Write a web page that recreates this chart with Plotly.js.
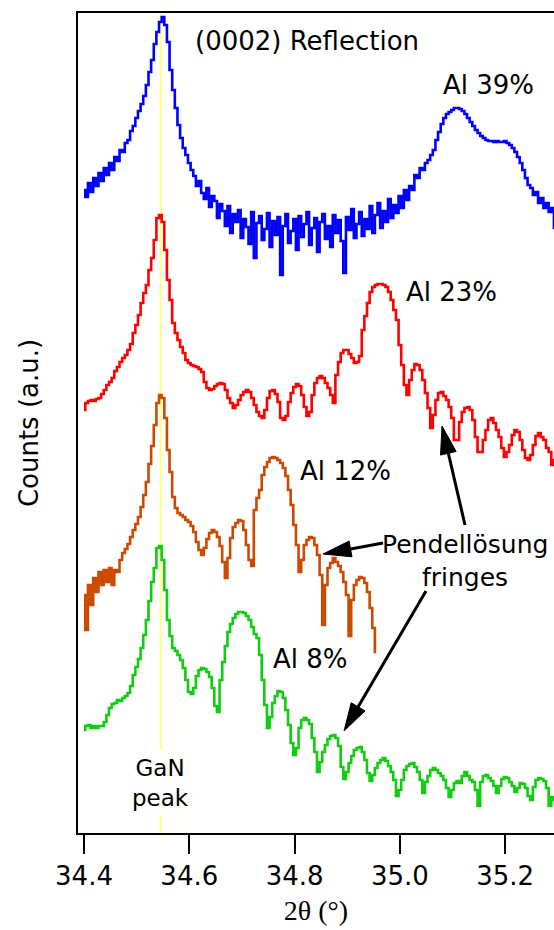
<!DOCTYPE html>
<html>
<head>
<meta charset="utf-8">
<script src="https://cdn.plot.ly/plotly-3.0.1.min.js"></script>
<style>html,body{margin:0;padding:0;background:#fff;}#chart{width:554px;height:930px;}</style>
</head>
<body>
<div id="chart"></div>
<script>
// Scan grid: 2theta start and step (degrees)
const theta0 = 34.4;
const dTheta = 0.005;

// Counts (a.u., vertically offset curves)
const al39 = [643,636,650,641,655,647,660,652,665,658,670,663,676,672,683,681,690,693,702,707,715,722,729,737,748,761,773,789,801,811,816,808,791,763,743,725,708,695,685,678,670,663,657,647,652,640,634,645,626,637,632,615,629,622,607,627,600,619,611,623,595,614,606,589,621,575,610,617,593,604,620,586,612,598,616,558,607,619,590,602,614,583,617,596,609,621,588,605,615,581,611,619,594,607,586,618,600,613,592,560,616,603,624,595,609,621,597,614,604,627,600,618,630,605,622,611,634,615,628,620,637,625,643,633,647,643,658,655,665,663,670,673,678,683,693,701,709,715,719,721,723,725,725,724,722,719,715,711,707,703,700,697,695,693,692,692,691,692,691,691,692,690,688,685,681,676,670,663,655,648,645,638,641,630,635,625,630,621,625,605];
const al23 = [423,430,432,433,432,434,435,439,443,448,451,455,462,466,471,475,478,483,489,500,508,518,530,540,548,563,575,593,615,618,611,583,553,533,510,500,493,486,480,473,470,468,467,466,464,461,451,445,443,444,447,449,450,449,443,435,430,425,428,433,438,441,443,441,435,428,421,417,415,423,435,442,443,439,431,415,413,417,431,440,446,449,447,438,426,417,421,438,450,455,457,455,450,445,438,430,458,471,480,483,483,479,475,470,471,477,503,517,530,541,546,548,549,549,548,546,541,533,523,513,488,468,448,438,453,463,469,468,463,453,440,425,405,418,433,440,441,437,433,426,415,393,393,411,421,425,426,423,413,396,381,381,393,403,413,415,410,403,396,385,376,381,388,398,403,401,393,383,375,373,378,388,397,400,396,393,385,381,368,373];
const al12 = [238,203,248,228,255,241,261,248,263,251,265,248,263,261,273,280,284,289,296,303,309,316,326,338,351,369,387,408,430,438,435,415,383,361,336,325,320,318,316,313,311,307,301,291,283,278,285,294,300,303,301,296,287,271,255,275,295,306,310,313,312,303,288,273,267,323,335,343,358,366,371,375,376,375,373,370,365,357,343,328,308,288,261,273,288,293,296,295,288,278,258,208,248,265,270,275,271,267,261,251,238,197,233,248,253,256,255,250,241,225,205,181];
const al8 = [103,107,108,105,107,105,107,107,111,118,125,129,130,133,132,135,137,140,147,158,166,174,185,198,213,232,251,265,285,287,273,243,213,197,185,182,178,173,165,153,141,139,145,157,163,165,164,161,156,145,127,121,153,171,187,201,209,215,219,221,221,220,217,213,206,199,195,178,153,128,105,116,130,137,142,141,135,123,108,90,78,85,105,113,115,113,109,95,81,61,71,81,88,94,97,98,95,87,66,54,61,70,77,83,85,86,81,73,60,52,58,65,70,73,75,72,67,61,53,37,43,53,63,67,69,70,66,61,53,40,51,57,63,65,63,60,57,53,45,36,43,50,52,50,57,61,57,53,51,43,27,51,57,58,55,52,47,40,47,54,56,55,51,47,41,45,50,49,45,37,33,46,53,55,54,52,45,27,36,33];

// Series definitions
const seriesNames = ['Al 39%', 'Al 23%', 'Al 12%', 'Al 8%'];
const seriesData = [al39, al23, al12, al8];
const seriesColors = ['#0000ff', '#ff0000', '#cc4a00', '#11cc11'];

// Axis ticks
const tickVals = [34.4, 34.6, 34.8, 35.0, 35.2];
const tickText = ['34.4', '34.6', '34.8', '35.0', '35.2'];
const ganPeak = 34.5457;

const traces = seriesData.map((d, i) => ({
  type: 'scatter', mode: 'lines', name: seriesNames[i],
  x0: theta0, dx: dTheta, y: d,
  line: {color: seriesColors[i], width: 2.6, shape: 'hvh'},
  hoverinfo: 'skip'
}));

// layout geometry (pixels)
const L = 78, T = 13, W = 476, H = 820;
const px = x => (x - L) / W;
const py = y => (T + H - y) / H;

const FONT = 'DejaVu Sans, Verdana, sans-serif';
function label(text, x, y, size) {
  return {text: text, xref: 'paper', yref: 'paper', x: px(x), y: py(y),
    xanchor: 'center', yanchor: 'middle', showarrow: false,
    font: {family: FONT, size: size || 25, color: '#000'}};
}

function arrow(tail, tip) {
  const hl = 28, hw = 8;
  const dx = tail[0] - tip[0], dy = tail[1] - tip[1];
  const len = Math.hypot(dx, dy);
  const ux = dx / len, uy = dy / len;
  const bx = tip[0] + ux * hl, by = tip[1] + uy * hl;
  const nx = -uy, ny = ux;
  const p1 = [bx + nx * hw, by + ny * hw], p2 = [bx - nx * hw, by - ny * hw];
  const path = 'M' + px(tip[0]) + ',' + py(tip[1]) + ' L' + px(p1[0]) + ',' + py(p1[1]) +
    ' L' + px(p2[0]) + ',' + py(p2[1]) + ' Z';
  return [
    {type: 'line', xref: 'paper', yref: 'paper', x0: px(tail[0]), y0: py(tail[1]),
      x1: px(bx - ux * 4), y1: py(by - uy * 4), line: {color: '#000', width: 3}, layer: 'above'},
    {type: 'path', xref: 'paper', yref: 'paper', path: path, fillcolor: '#000',
      line: {color: '#000', width: 1}, layer: 'above'}
  ];
}

const shapes = [
  {type: 'line', xref: 'x', yref: 'paper', x0: ganPeak, x1: ganPeak, y0: 1, y1: py(750),
    line: {color: '#ffff80', width: 2}, layer: 'below'},
  {type: 'line', xref: 'x', yref: 'paper', x0: ganPeak, x1: ganPeak, y0: py(815), y1: 0,
    line: {color: '#ffff80', width: 2}, layer: 'below'}
].concat(arrow([383, 543], [323, 554]), arrow([465, 525], [442, 426]), arrow([426, 591], [344, 731]));

const annotations = [
  label('(0002) Reflection', 307, 41, 26),
  label('Al 39%', 488, 85, 26),
  label('Al 23%', 451, 292, 26),
  label('Al 12%', 345, 471, 26),
  label('Al 8%', 310, 659, 26),
  label('Pendellösung', 465, 544, 25),
  label('fringes', 465, 577, 25),
  label('GaN<br>peak', 160, 783, 23)
];

const layout = {
  width: 554, height: 930,
  margin: {l: L, r: 0, t: T, b: 930 - T - H},
  paper_bgcolor: '#fff', plot_bgcolor: '#fff',
  showlegend: false,
  font: {family: FONT, color: '#000'},
  xaxis: {
    range: [34.3886, 35.2927], tickvals: tickVals, ticktext: tickText,
    ticks: 'outside', ticklen: 19, tickwidth: 2, tickcolor: '#000',
    showline: true, linewidth: 2, linecolor: '#000', mirror: true,
    showgrid: false, zeroline: false,
    tickfont: {family: FONT, size: 26, color: '#000'},
    title: {text: '2θ (°)', font: {family: 'Liberation Serif, Times New Roman, serif', size: 28, color: '#000'}, standoff: 10}
  },
  yaxis: {
    range: [0, 820], showticklabels: false, ticks: '',
    showline: true, linewidth: 2, linecolor: '#000',
    showgrid: false, zeroline: false,
    title: {text: 'Counts (a.u.)', font: {family: FONT, size: 26, color: '#000'}, standoff: 30}
  },
  shapes: shapes,
  annotations: annotations
};

Plotly.newPlot('chart', traces, layout, {displayModeBar: false, staticPlot: true});
</script>
</body>
</html>
